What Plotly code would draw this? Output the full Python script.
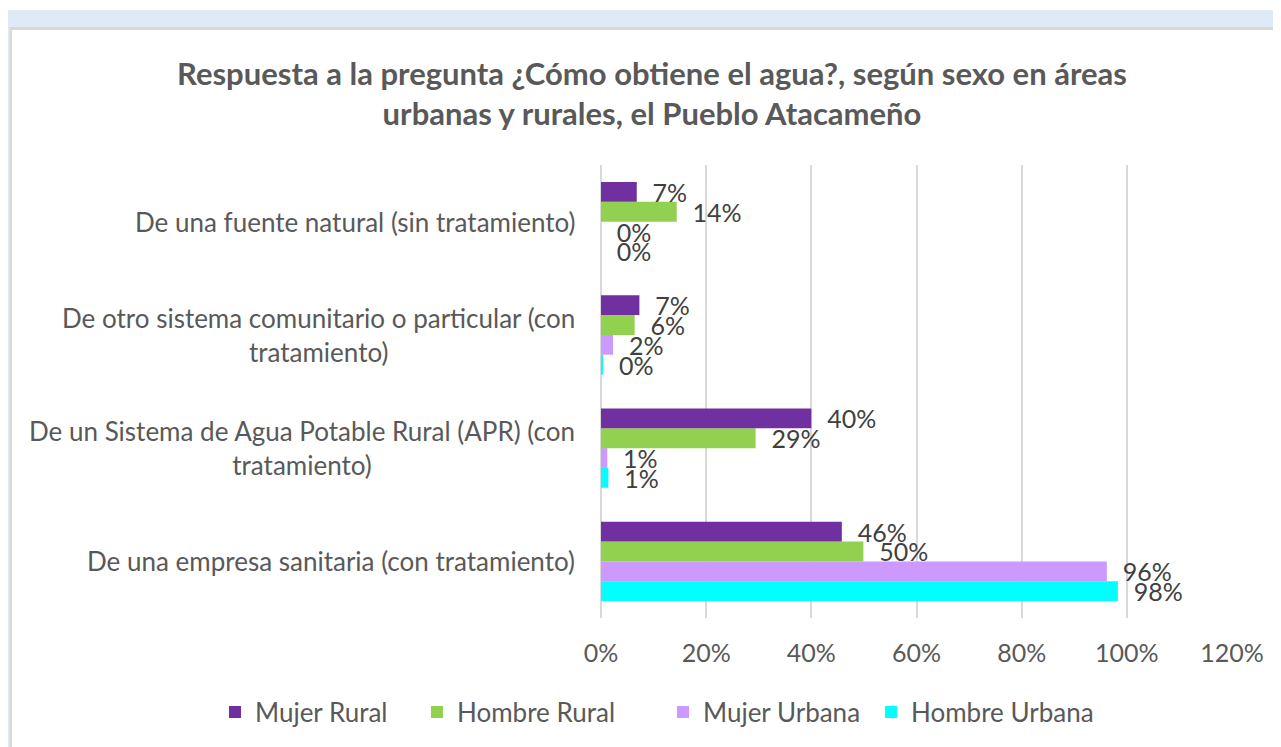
import plotly.graph_objects as go

categories = [
    "De una empresa sanitaria (con tratamiento)",
    "De un Sistema de Agua Potable Rural (APR) (con<br>tratamiento)",
    "De otro sistema comunitario o particular (con<br>tratamiento)",
    "De una fuente natural (sin tratamiento)",
]
cat_ids = ["empresa", "apr", "otro", "fuente"]

mujer_rural = [0.458, 0.400, 0.073, 0.068]
hombre_rural = [0.499, 0.294, 0.064, 0.144]
mujer_urbana = [0.962, 0.012, 0.023, 0.0]
hombre_urbana = [0.983, 0.014, 0.004, 0.0]

series = [
    ("Hombre Urbana", hombre_urbana, "#00FFFF", 205),
    ("Mujer Urbana", mujer_urbana, "#CC99FF", 163),
    ("Hombre Rural", hombre_rural, "#92D050", 201),
    ("Mujer Rural", mujer_rural, "#7030A0", 157),
]

x_ticks = [0, 0.2, 0.4, 0.6, 0.8, 1.0, 1.2]
x_labels = ["0%", "20%", "40%", "60%", "80%", "100%", "120%"]

FONT = "Lato"
W, H = 1281, 747
OFF = 8  # page body margin
L, R, T, B = 601 - OFF, 57, 165 - OFF, 137
pw, ph = W - L - R, H - T - B

def px(x):
    return (x - OFF - L) / pw

def py(y):
    return (H - B - (y - OFF)) / ph

fig = go.Figure()
for name, vals, color, lw in series:
    fig.add_trace(go.Bar(
        y=cat_ids, x=vals, name=name, orientation="h",
        marker=dict(color=color, line=dict(width=0)),
        texttemplate="\u00a0\u00a0%{x:.0%}", textposition="outside",
        textfont=dict(family=FONT, size=25, color="#404040"),
        constraintext="none", cliponaxis=False,
        hoverinfo="x+name", legendwidth=lw,
    ))

shapes = [
    dict(type="rect", xref="paper", yref="paper", x0=px(4), x1=px(W + 20), y0=py(10), y1=py(H + 20),
         fillcolor="#DEEAF6", line=dict(width=0), layer="below"),
    dict(type="rect", xref="paper", yref="paper", x0=px(9.5), x1=px(W + 20), y0=py(27), y1=py(H + 20),
         fillcolor="#D9D9D9", line=dict(width=0), layer="below"),
    dict(type="rect", xref="paper", yref="paper", x0=px(12), x1=px(W + 20), y0=py(30), y1=py(H + 20),
         fillcolor="#FFFFFF", line=dict(width=0), layer="below"),
]

annotations = []
for cid, lab in zip(cat_ids, categories):
    annotations.append(dict(
        x=px(577), xref="paper", y=cid, yref="y", text=lab, showarrow=False,
        xanchor="right", yanchor="middle", align="center",
        font=dict(family=FONT, size=26, color="#595959"),
    ))

fig.update_layout(
    width=W, height=H,
    margin=dict(l=L, r=R, t=T, b=B, autoexpand=False),
    paper_bgcolor="white", plot_bgcolor="rgba(0,0,0,0)",
    barmode="group", bargap=0.3, bargroupgap=0,
    title=dict(
        text="Respuesta a la pregunta ¿Cómo obtiene el agua?, según sexo en áreas<br>urbanas y rurales, el Pueblo Atacameño",
        x=(652 - OFF) / W, xanchor="center", xref="container",
        y=1 - (85 - OFF) / H, yanchor="middle", yref="container",
        font=dict(family=FONT, size=31, color="#595959", weight="bold"),
    ),
    xaxis=dict(
        range=[0, 1.2], tickvals=x_ticks, ticktext=x_labels,
        showgrid=True, gridcolor="#D9D9D9", gridwidth=2,
        zeroline=True, zerolinecolor="#D9D9D9", zerolinewidth=2,
        showline=False, ticks="", ticklen=0, ticklabelstandoff=18,
        tickfont=dict(family=FONT, size=25, color="#595959"),
        fixedrange=True,
    ),
    yaxis=dict(
        categoryorder="array", categoryarray=cat_ids,
        showticklabels=False, showgrid=False, zeroline=False, showline=False, ticks="",
        fixedrange=True,
    ),
    legend=dict(
        orientation="h", traceorder="reversed",
        x=px(215), xanchor="left", xref="paper",
        y=py(712), yanchor="middle", yref="paper",
        font=dict(family=FONT, size=26, color="#595959"),
        bgcolor="rgba(0,0,0,0)",
    ),
    shapes=shapes, annotations=annotations,
    showlegend=True,
)

fig.write_html("out.html")
